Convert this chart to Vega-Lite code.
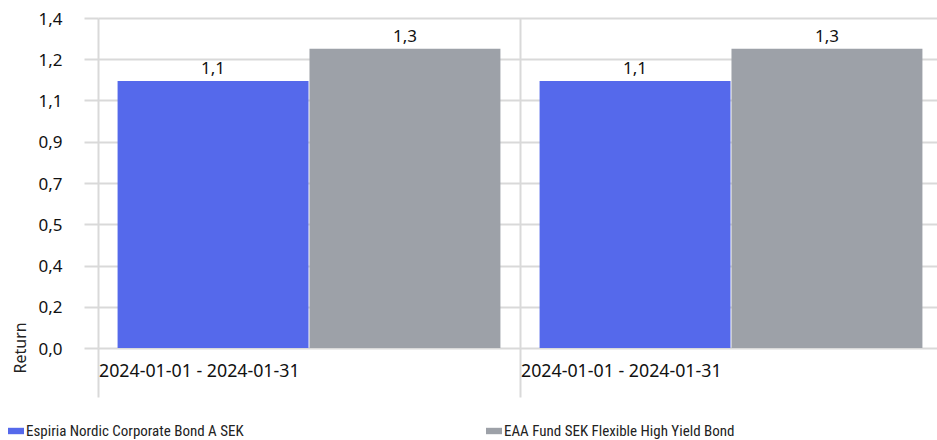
{
  "$schema": "https://vega.github.io/schema/vega-lite/v6.json",
  "width": 844,
  "height": 330,
  "autosize": {"type": "none"},
  "padding": {"left": 98, "top": 18, "right": 0, "bottom": 92},
  "background": "white",
  "config": {
    "view": {"stroke": null},
    "font": "Noto Sans",
    "locale": {"number": {"decimal": ",", "thousands": "\u00a0", "grouping": [3], "currency": ["", " kr"]}}
  },
  "data": {
    "values": [
      {"period": "2024-01-01 - 2024-01-31", "fund": "Espiria Nordic Corporate Bond A SEK", "ret": 1.133},
      {"period": "2024-01-01 - 2024-01-31", "fund": "EAA Fund SEK Flexible High Yield Bond", "ret": 1.27},
      {"period": "2024-01-01 - 2024-01-31 ", "fund": "Espiria Nordic Corporate Bond A SEK", "ret": 1.133},
      {"period": "2024-01-01 - 2024-01-31 ", "fund": "EAA Fund SEK Flexible High Yield Bond", "ret": 1.27}
    ]
  },
  "encoding": {
    "x": {
      "field": "period",
      "type": "nominal",
      "sort": null,
      "scale": {"paddingInner": 0, "paddingOuter": 0},
      "axis": {
        "title": null,
        "labelAngle": 0,
        "bandPosition": 0,
        "domain": false,
        "grid": true,
        "gridColor": "#D9D9D9",
        "gridWidth": 2,
        "ticks": true,
        "tickSize": 49,
        "tickColor": "#D9D9D9",
        "tickWidth": 2,
        "labelAlign": "left",
        "labelBaseline": "alphabetic",
        "labelPadding": -21,
        "labelOffset": -210,
        "labelFont": "Noto Sans",
        "labelFontSize": 17.8,
        "labelColor": "#111111",
        "labelLimit": 400
      }
    },
    "xOffset": {
      "field": "fund",
      "type": "nominal",
      "sort": null,
      "scale": {"paddingOuter": 0.102, "paddingInner": 0.005}
    },
    "y": {
      "field": "ret",
      "type": "quantitative",
      "scale": {"domain": [0, 1.4], "nice": false},
      "axis": {
        "title": "Return",
        "titleFont": "Noto Sans",
        "titleFontSize": 16,
        "titleFontWeight": "normal",
        "titleColor": "#222222",
        "titleAngle": -90,
        "titleAlign": "left",
        "titleBaseline": "bottom",
        "titleX": -70,
        "titleY": 355,
        "values": [0, 0.175, 0.35, 0.525, 0.7, 0.875, 1.05, 1.225, 1.4],
        "labelExpr": "replace(format(datum.value + 1e-9, '.1f'), '.', ',')",
        "domain": false,
        "grid": true,
        "gridColor": "#D9D9D9",
        "gridWidth": 2,
        "ticks": true,
        "tickSize": 14,
        "tickColor": "#D9D9D9",
        "tickWidth": 2,
        "labelPadding": 22,
        "labelFont": "Noto Sans",
        "labelFontSize": 17,
        "labelColor": "#111111",
        "labelBaseline": "middle",
        "labelOffset": 1
      }
    }
  },
  "layer": [
    {
      "mark": {"type": "bar"},
      "encoding": {
        "color": {
          "field": "fund",
          "type": "nominal",
          "sort": null,
          "scale": {"domain": ["Espiria Nordic Corporate Bond A SEK", "EAA Fund SEK Flexible High Yield Bond"], "range": ["#5569EB", "#9DA1A8"]},
          "legend": {
            "title": null,
            "orient": "none",
            "legendX": -90,
            "legendY": 405,
            "direction": "horizontal",
            "columns": 2,
            "columnPadding": 242,
            "symbolType": "M-1,-0.4L1,-0.4L1,0.4L-1,0.4Z",
            "symbolSize": 256,
            "symbolStrokeWidth": 0,
            "symbolOpacity": 1,
            "labelFont": "Roboto Condensed, Liberation Sans Narrow, DejaVu Sans Condensed, sans-serif",
            "labelFontSize": 15,
            "labelColor": "#222222",
            "labelOffset": 2,
            "labelLimit": 400
          }
        }
      }
    },
    {
      "mark": {"type": "text", "baseline": "alphabetic", "dy": -7, "font": "Noto Sans", "fontSize": 17, "color": "#111111"},
      "encoding": {
        "text": {"field": "ret", "type": "quantitative", "format": ".1f"}
      }
    }
  ]
}
